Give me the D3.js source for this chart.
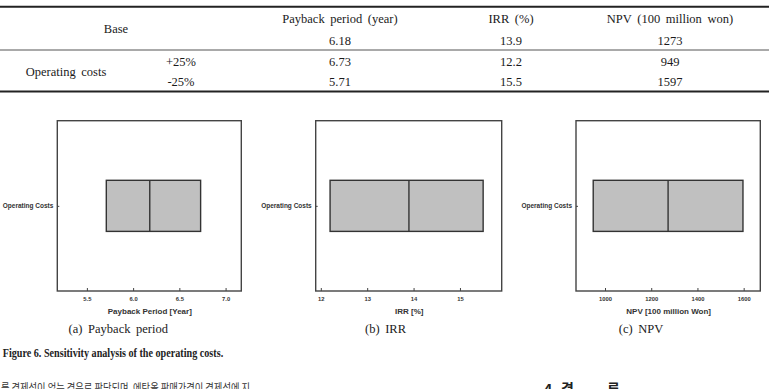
<!DOCTYPE html>
<html>
<head>
<meta charset="utf-8">
<script src="https://cdn.jsdelivr.net/npm/d3@7"></script>
<style>
  body { margin: 0; background: #fff; }
  svg { display: block; }
  .tbl { font-family: "Liberation Serif", "Times New Roman", serif; font-size: 12.5px; fill: #1a1a1a; word-spacing: 2.5px; }
  .tick text { font-family: "Liberation Sans", Arial, sans-serif; font-weight: bold; fill: #333; }
  .axtitle { font-family: "Liberation Sans", Arial, sans-serif; font-weight: bold; font-size: 8px; fill: #333; }
</style>
</head>
<body>
<div id="chart"></div>
<script>
// table data
var colHeads = ["Payback period (year)", "IRR (%)", "NPV (100 million won)"];
var baseVals = ["6.18", "13.9", "1273"];
var plusVals = ["6.73", "12.2", "949"];
var minusVals = ["5.71", "15.5", "1597"];
var rowLabels = ["+25%", "-25%"];

// chart data
var categories = ["Operating Costs"];
var baseNum = [6.18, 13.9, 1273];
var lowNum = [5.71, 12.2, 949];
var highNum = [6.73, 15.5, 1597];
var xDomains = [[5.18, 7.17], [11.89, 15.9], [874.5, 1672]];
var xTicks = [[5.5, 6.0, 6.5, 7.0], [12, 13, 14, 15], [1000, 1200, 1400, 1600]];
var tickFormats = [".1f", "d", "d"];
var axisTitles = ["Payback Period [Year]", "IRR [%]", "NPV [100 million Won]"];
var captions = ["(a)  Payback  period", "(b)  IRR", "(c)  NPV"];

var W = 769, H = 389;
var svg = d3.select("#chart").append("svg")
    .attr("width", W)
    .attr("height", H);

// ---- table ----
var colX = [340, 511, 670];
var tbl = svg.append("g").attr("class", "tbl");

tbl.append("line").attr("x1", 0).attr("x2", W).attr("y1", 6.8).attr("y2", 6.8)
    .attr("stroke", "#222").attr("stroke-width", 2);
tbl.append("line").attr("x1", 0).attr("x2", W).attr("y1", 50).attr("y2", 50)
    .attr("stroke", "#555").attr("stroke-width", 1);
tbl.append("line").attr("x1", 0).attr("x2", W).attr("y1", 91.5).attr("y2", 91.5)
    .attr("stroke", "#222").attr("stroke-width", 2.2);

function tText(x, y, s){
    tbl.append("text").attr("x", x).attr("y", y)
        .attr("text-anchor", "middle").text(s);
}

tText(116, 33.3, "Base");
tText(66, 75.7, "Operating  costs");
tText(181, 65.7, rowLabels[0]);
tText(181, 85.7, rowLabels[1]);
colHeads.forEach(function(d, i){ tText(colX[i], 23, d); });
baseVals.forEach(function(d, i){ tText(colX[i], 44.7, d); });
plusVals.forEach(function(d, i){ tText(colX[i], 65.7, d); });
minusVals.forEach(function(d, i){ tText(colX[i], 85.7, d); });

// ---- three box panels ----
var frames = [[57.3, 241.3], [315.7, 501.7], [576, 760.3]];
var plotTop = 120.7, plotBottom = 291;

frames.forEach(function(f, i){
    var g = svg.append("g");
    var x = d3.scaleLinear().domain(xDomains[i]).range(f);
    var y = d3.scaleBand().domain(categories).range([plotTop, plotBottom])
        .paddingInner(0).paddingOuter(7 / 6);

    // box
    g.selectAll("rect.box")
        .data(categories).enter().append("rect")
        .attr("class", "box")
        .attr("x", x(lowNum[i]))
        .attr("width", x(highNum[i]) - x(lowNum[i]))
        .attr("y", function(d){ return y(d); })
        .attr("height", y.bandwidth())
        .attr("fill", "#c0c0c0")
        .attr("stroke", "#333")
        .attr("stroke-width", 1.4);

    g.selectAll("line.med")
        .data(categories).enter().append("line")
        .attr("class", "med")
        .attr("x1", x(baseNum[i])).attr("x2", x(baseNum[i]))
        .attr("y1", function(d){ return y(d); })
        .attr("y2", function(d){ return y(d) + y.bandwidth(); })
        .attr("stroke", "#333")
        .attr("stroke-width", 1.4);

    // frame
    g.append("rect")
        .attr("x", f[0]).attr("y", plotTop)
        .attr("width", f[1] - f[0]).attr("height", plotBottom - plotTop)
        .attr("fill", "none").attr("stroke", "#444").attr("stroke-width", 1.4);

    var xAxis = d3.axisBottom(x).tickValues(xTicks[i])
        .tickFormat(d3.format(tickFormats[i]))
        .tickSizeInner(-3).tickSizeOuter(0).tickPadding(6);
    var gx = g.append("g").attr("transform", "translate(0," + plotBottom + ")").call(xAxis);
    gx.select(".domain").remove();
    gx.selectAll(".tick line").attr("stroke", "#444");
    gx.selectAll(".tick text").attr("font-size", 5.8).attr("fill", "#333");

    var yMid = y(categories[0]) + y.bandwidth() / 2;
    var yAxis = d3.axisLeft(d3.scalePoint().domain(categories).range([yMid, yMid]))
        .tickSizeInner(-2).tickSizeOuter(0).tickPadding(4);
    var gy = g.append("g").attr("transform", "translate(" + f[0] + ",0)").call(yAxis);
    gy.select(".domain").remove();
    gy.selectAll(".tick line").attr("stroke", "#444");
    gy.selectAll(".tick text").attr("font-size", 6.5).attr("fill", "#333");

    g.append("text").attr("class", "axtitle")
        .attr("x", (f[0] + f[1]) / 2 + 0.5).attr("y", 314)
        .attr("text-anchor", "middle").text(axisTitles[i]);
});

// ---- captions ----
var capX = [118.3, 385.5, 641];
captions.forEach(function(c, i){
    svg.append("text").attr("class", "tbl")
        .attr("x", capX[i]).attr("y", 333.3)
        .attr("text-anchor", "middle").text(c);
});

svg.append("text")
    .attr("x", 2.7).attr("y", 356.5)
    .attr("textLength", 220.5).attr("lengthAdjust", "spacingAndGlyphs")
    .style("font-family", "'Liberation Serif', serif")
    .style("font-weight", "bold").style("font-size", "13px").style("fill", "#222")
    .text("Figure  6.  Sensitivity  analysis  of  the  operating  costs.");

// cut-off body text at bottom
svg.append("text")
    .attr("x", 1).attr("y", 392)
    .attr("textLength", 249).attr("lengthAdjust", "spacingAndGlyphs")
    .style("font-family", "'Noto Sans CJK KR', sans-serif")
    .style("font-size", "11px").style("fill", "#333")
    .text("를 경제성이 없는 경우로 판단되며, 에탄올 판매가격이 경제성에 지");

var heads = [["4.", 544], ["결", 561], ["론", 607]];
heads.forEach(function(h){
    svg.append("text").attr("x", h[1]).attr("y", 394)
        .style("font-family", "'Noto Sans CJK KR', sans-serif")
        .style("font-weight", "bold").style("font-size", "14px").style("fill", "#222")
        .text(h[0]);
});
</script>
</body>
</html>
